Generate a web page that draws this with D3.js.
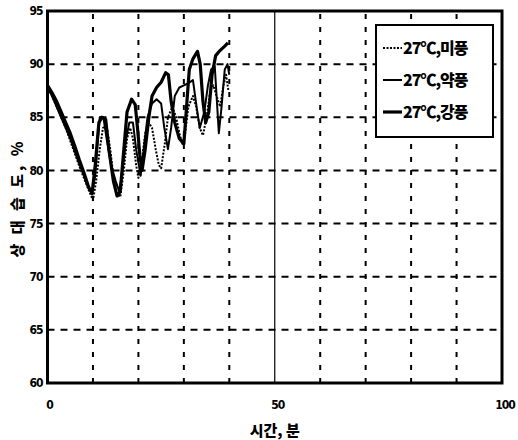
<!DOCTYPE html>
<html>
<head>
<meta charset="utf-8">
<script src="https://cdn.jsdelivr.net/npm/d3@7"></script>
<style>
  body { margin: 0; background: #fff; }
  svg text { font-family: "Liberation Sans Narrow", "DejaVu Sans Condensed", "Noto Sans CJK KR", sans-serif; font-weight: bold; fill: #000; }
  .kr { font-family: "Noto Sans CJK KR", sans-serif; font-weight: 900; }
</style>
</head>
<body>
<div id="chart"></div>
<script>
// relative humidity over time, three fan speeds at 27C
const seriesNames = ["27℃,미풍", "27℃,약풍", "27℃,강풍"];

const weakT = [0,1,2,3,4,5,6,7,8,9,10,10.7,11.5,12.2,13,13.8,14.5,15.3,16,16.8,17.5,18.2,18.8,19.5,20,20.8,21.5,22.3,23,23.8,24.5,25,25.8,26.5,27.5,28.3,29,29.7,30.3,31,32,32.7,33.5,34.2,35,35.8,36.5,37.2,38,38.7,39.3,39.8];
const weakV = [88,87,86,85,84,82.8,81.6,80.4,79.3,78.2,77.2,79,82,84,84.3,82,79.5,77.8,77.5,80,83,84,83,80.5,79.3,81,83.5,84.5,84,82,80.5,80.2,82.5,85,86,85,83.5,82.5,83.5,86,87,86,84,83.3,85,87.5,88,87,86,88,89,87.5];

const midT = [0,1,2,3,4,5,6,7,8,9,9.8,10.5,11,11.5,12.3,13,14,15,15.8,16.5,17.3,18,18.8,19.5,20.5,21.3,22,23,24,25,25.7,26.5,27.2,28,29,30,31,32,32.8,33.5,34.5,35.3,36,36.8,37.2,37.7,38.3,39,39.6,40];
const midV = [87.8,87,86,85,84,83,81.8,80.6,79.5,78.3,78,79.5,82.5,85,85,83,80.5,79,78,80,83,84.5,84.5,82,79.5,82.5,85,86.3,86.7,86.3,84,82,84,87,87.8,88,88.2,88.5,86,84,85.5,88,89.5,89.8,87,83.5,86,89.5,90,89];

const strongT = [0,1,2,3,4,5,6,7,8,9,9.8,10.5,11.3,12,12.8,13.5,14.5,15.3,16,16.8,17.5,18.5,19.3,19.8,20.3,20.8,21.5,22.3,23,24,25,26,26.6,27.2,28,29,30,30.6,31.2,32,33,33.6,34.2,34.8,35.5,36.2,37,38,39,39.7];
const strongV = [88,87.3,86.5,85.5,84.5,83.5,82.3,81,79.8,78.5,77.8,80.5,84.5,85,84.8,82,79,77.6,78,82,85.5,86.7,86.2,84,81.5,80,82,85,87,87.8,88.3,89.2,89,86.5,84.5,83,82.5,86,89.5,90.5,91.2,90,86.5,84.5,85.5,89,90.8,91.3,91.7,92];

const xTicks = [0, 50, 100];
const yTicks = [60, 65, 70, 75, 80, 85, 90, 95];
const xGrid = [10, 20, 30, 40, 60, 70, 80, 90];
const yGrid = [65, 70, 75, 80, 85, 90];

const width = 518, height = 440;
const margin = {left: 47.5, right: 16, top: 11, bottom: 57};

const x = d3.scaleLinear().domain([0, 100]).range([margin.left, width - margin.right]);
const y = d3.scaleLinear().domain([60, 95]).range([height - margin.bottom, margin.top]);

const svg = d3.select("#chart").append("svg")
  .attr("width", width)
  .attr("height", height);

// grid
svg.append("g").selectAll("line")
  .data(yGrid).enter().append("line")
  .attr("x1", x(0)).attr("x2", x(100))
  .attr("y1", d => y(d)).attr("y2", d => y(d))
  .attr("stroke", "#000").attr("stroke-width", 2)
  .attr("stroke-dasharray", "7,6");

svg.append("g").selectAll("line")
  .data(xGrid).enter().append("line")
  .attr("x1", d => x(d)).attr("x2", d => x(d))
  .attr("y1", y(60)).attr("y2", y(95))
  .attr("stroke", "#000").attr("stroke-width", 2)
  .attr("stroke-dasharray", "5,8");

svg.append("line")
  .attr("x1", x(50)).attr("x2", x(50))
  .attr("y1", y(60)).attr("y2", y(95))
  .attr("stroke", "#000").attr("stroke-width", 1.2);

// frame
svg.append("rect")
  .attr("x", x(0)).attr("y", y(95))
  .attr("width", x(100) - x(0)).attr("height", y(60) - y(95))
  .attr("fill", "none").attr("stroke", "#000").attr("stroke-width", 3);

// tick labels
svg.append("g").selectAll("text")
  .data(yTicks).enter().append("text")
  .attr("x", x(0) - 5).attr("y", d => y(d))
  .attr("dy", "0.35em")
  .attr("text-anchor", "end")
  .attr("font-size", 12)
  .attr("letter-spacing", -1)
  .text(d => d);

svg.append("g").selectAll("text")
  .data(xTicks).enter().append("text")
  .attr("x", d => x(d) + (d === 0 ? 2 : 3)).attr("y", y(60) + 26)
  .attr("text-anchor", "middle")
  .attr("font-size", 12)
  .attr("letter-spacing", -1)
  .text(d => d);

// axis titles
svg.append("text")
  .attr("class", "kr")
  .attr("x", x(50)).attr("y", 436)
  .attr("text-anchor", "middle")
  .attr("font-size", 15)
  .text("시간, 분");

svg.append("text")
  .attr("class", "kr")
  .attr("transform", "translate(23,198) rotate(-90)")
  .attr("text-anchor", "middle")
  .attr("font-size", 15)
  .attr("letter-spacing", 3)
  .text("상 대 습 도, %");

// series
const line = d3.line()
  .x(d => x(d[0]))
  .y(d => y(d[1]));

const series = [
  {name: seriesNames[0], pts: d3.zip(weakT, weakV), w: 2, dash: "2,1.5"},
  {name: seriesNames[1], pts: d3.zip(midT, midV), w: 2, dash: null},
  {name: seriesNames[2], pts: d3.zip(strongT, strongV), w: 3.2, dash: null}
];

svg.append("g").selectAll("path")
  .data(series).enter().append("path")
  .attr("d", d => line(d.pts))
  .attr("fill", "none")
  .attr("stroke", "#000")
  .attr("stroke-width", d => d.w)
  .attr("stroke-dasharray", d => d.dash)
  .attr("stroke-linejoin", "round");

// legend
const lg = svg.append("g").attr("transform", "translate(376,25)");
lg.append("rect")
  .attr("width", 117).attr("height", 112)
  .attr("fill", "#fff").attr("stroke", "#000").attr("stroke-width", 2);

const items = lg.selectAll("g.item")
  .data(series).enter().append("g")
  .attr("class", "item")
  .attr("transform", (d, i) => `translate(0,${23 + i * 32})`);

items.append("line")
  .attr("x1", 7).attr("x2", 26)
  .attr("stroke", "#000")
  .attr("stroke-width", d => d.w)
  .attr("stroke-dasharray", d => d.dash);

items.append("text")
  .attr("class", "kr")
  .attr("x", 27).attr("dy", "0.35em")
  .attr("font-size", 16)
  .attr("letter-spacing", -1)
  .text(d => d.name);
</script>
</body>
</html>
